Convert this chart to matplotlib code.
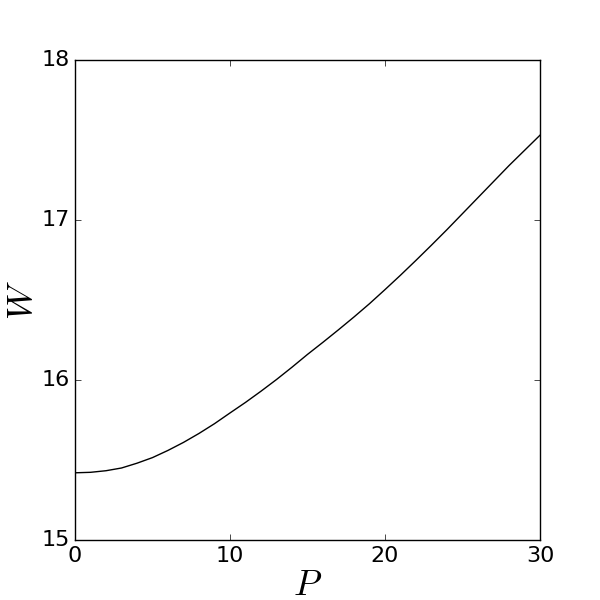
import matplotlib
matplotlib.use('Agg')
import matplotlib.pyplot as plt

plt.style.use('classic')
plt.rcParams['mathtext.fontset'] = 'cm'

# Datos
P = list(range(0, 31))
W = [15.420, 15.423, 15.433, 15.450, 15.480, 15.515, 15.560, 15.610,
     15.666, 15.727, 15.794, 15.860, 15.930, 16.003, 16.080, 16.160,
     16.236, 16.314, 16.394, 16.477, 16.565, 16.655, 16.748, 16.843,
     16.940, 17.040, 17.140, 17.240, 17.340, 17.435, 17.530]

x_ticks = [0, 10, 20, 30]
y_ticks = [15, 16, 17, 18]

fig = plt.figure(figsize=(6, 6), dpi=100, facecolor='white')
ax = fig.add_axes([0.125, 0.1, 0.775, 0.8])
ax.plot(P, W, color='black', linewidth=1)
ax.set_xlim(0, 30)
ax.set_ylim(15, 18)
ax.set_xticks(x_ticks)
ax.set_yticks(y_ticks)
ax.tick_params(labelsize=16)
ax.set_xlabel(r'$P$', fontsize=26, labelpad=2)
ax.set_ylabel(r'$W$', fontsize=26, labelpad=1)

fig.savefig('out.png', dpi=100, facecolor='white')
plt.close()
